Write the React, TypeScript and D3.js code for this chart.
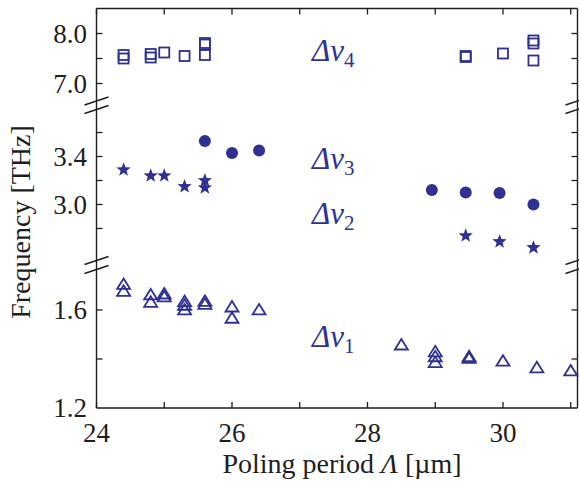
import React from "react";
import * as d3 from "d3";

const W = 579;
const H = 482;

// Δν4 (open squares)
const nu4X = [24.4, 24.4, 24.8, 24.8, 25.0, 25.3, 25.6, 25.6, 25.6, 29.45, 29.45, 30.0, 30.45, 30.45, 30.45];
const nu4Y = [7.57, 7.5, 7.59, 7.52, 7.62, 7.55, 7.81, 7.78, 7.57, 7.55, 7.53, 7.6, 7.86, 7.8, 7.46];

// Δν3 (filled circles)
const nu3X = [25.6, 26.0, 26.4, 28.95, 29.45, 29.95, 30.45];
const nu3Y = [3.53, 3.43, 3.45, 3.12, 3.1, 3.095, 3.0];

// Δν2 (filled stars)
const nu2X = [24.4, 24.8, 25.0, 25.3, 25.6, 25.6, 29.45, 29.95, 30.45];
const nu2Y = [3.29, 3.24, 3.24, 3.15, 3.2, 3.14, 2.74, 2.69, 2.64];

// Δν1 (open triangles)
const nu1X = [24.4, 24.4, 24.8, 24.8, 25.0, 25.0, 25.3, 25.3, 25.3, 25.6, 25.6, 26.0, 26.0, 26.4, 28.5, 29.0, 29.0, 29.0, 29.5, 29.5, 30.0, 30.5, 31.0];
const nu1Y = [1.7, 1.672, 1.657, 1.627, 1.661, 1.649, 1.63, 1.615, 1.596, 1.631, 1.619, 1.608, 1.562, 1.596, 1.453, 1.425, 1.405, 1.381, 1.405, 1.398, 1.387, 1.36, 1.347];

const xMajor = [24, 26, 28, 30];
const xMinor = [25, 27, 29, 31];
const topTicks = [7.0, 7.5, 8.0];
const topLabels = [7.0, 8.0];
const midTicks = [2.8, 3.0, 3.2, 3.4, 3.6];
const midLabels = [3.0, 3.4];
const botTicks = [1.4, 1.6];
const botLabels = [1.2, 1.6];

const BLUE = "#2e3192";
const INK = "#1e1e1e";
const FONT = "'Liberation Serif', 'DejaVu Serif', serif";

function starPath(R: number) {
  const r = R * 0.42;
  const pts: [number, number][] = [];
  for (let i = 0; i < 10; i++) {
    const a = -Math.PI / 2 + (i * Math.PI) / 5;
    const rr = i % 2 === 0 ? R : r;
    pts.push([rr * Math.cos(a), rr * Math.sin(a)]);
  }
  return d3.line()(pts.concat([pts[0]])) + "Z";
}

function triPath(w: number, h: number) {
  return `M0,${(-2 * h) / 3}L${w / 2},${h / 3}L${-w / 2},${h / 3}Z`;
}

export default function App() {
  const left = 96.5;
  const right = 577.5;
  const top = 8.5;
  const bottom = 408;
  const x = d3.scaleLinear().domain([24, 31.1]).range([left, right]);
  const yTop = d3.scaleLinear().domain([6.65, 8.5]).range([101, top]);
  const yMid = d3.scaleLinear().domain([2.533, 3.792]).range([260.5, 109.5]);
  const yBot = d3.scaleLinear().domain([1.2, 1.765]).range([bottom, 269.5]);

  const tick = 6;
  const fmt = d3.format(".1f");
  const star = starPath(7.5);
  const tri = triPath(13, 10.5);

  const breaks = [101, 109.5, 260.5, 269.5];

  const yTickLines: any[] = [];
  const addY = (vals: number[], s: any, key: string) => {
    vals.forEach((v, i) => {
      const yy = s(v);
      yTickLines.push(
        <g key={key + i}>
          <line x1={left} x2={left + tick} y1={yy} y2={yy} stroke={INK} strokeWidth={1.3} />
          <line x1={right} x2={right - tick} y1={yy} y2={yy} stroke={INK} strokeWidth={1.3} />
        </g>
      );
    });
  };
  addY(topTicks, yTop, "t");
  addY(midTicks, yMid, "m");
  addY(botTicks, yBot, "b");

  const yLabelEls = [
    ...topLabels.map((v) => ({ v, y: yTop(v) })),
    ...midLabels.map((v) => ({ v, y: yMid(v) })),
    ...botLabels.map((v) => ({ v, y: yBot(v) })),
  ];

  const txt = { fontFamily: FONT } as React.CSSProperties;

  const label = (sub: string, lx: number, ly: number) => (
    <text x={lx} y={ly} fill={BLUE} style={txt} fontSize={31} fontStyle="italic">
      {"Δν"}
      <tspan fontSize={21} fontStyle="normal" dy={6}>{sub}</tspan>
    </text>
  );

  return (
    <svg width={W} height={H} style={{ position: "absolute", left: 0, top: 0, background: "#fff" }}>
      <rect x={0} y={0} width={W} height={H} fill="#fff" />
      {/* frame */}
      <line x1={left} x2={left} y1={top} y2={bottom} stroke={INK} strokeWidth={1.4} />
      <line x1={right} x2={right} y1={top} y2={bottom} stroke={INK} strokeWidth={1.4} />
      <line x1={left} x2={right} y1={top} y2={top} stroke={INK} strokeWidth={1.4} />
      <line x1={left} x2={right} y1={bottom} y2={bottom} stroke={INK} strokeWidth={1.4} />
      {/* x ticks */}
      {xMajor.concat(xMinor).map((v, i) => (
        <g key={"x" + i}>
          <line x1={x(v)} x2={x(v)} y1={bottom} y2={bottom - tick} stroke={INK} strokeWidth={1.3} />
          <line x1={x(v)} x2={x(v)} y1={top} y2={top + tick} stroke={INK} strokeWidth={1.3} />
        </g>
      ))}
      {yTickLines}
      {/* break marks */}
      {breaks.map((b, i) =>
        [left, right].map((xx, j) => (
          <line key={"br" + i + "_" + j} x1={xx - 12} x2={xx + 12} y1={b + 4} y2={b - 4} stroke={INK} strokeWidth={1.4} />
        ))
      )}
      {/* tick labels */}
      {xMajor.map((v) => (
        <text key={"xl" + v} x={x(v)} y={442} textAnchor="middle" style={txt} fontSize={27} fill={INK}>
          {v}
        </text>
      ))}
      {yLabelEls.map((d, i) => (
        <text key={"yl" + i} x={87} y={d.y} dy="0.34em" textAnchor="end" style={txt} fontSize={27} fill={INK}>
          {fmt(d.v)}
        </text>
      ))}
      {/* axis titles */}
      <text x={342} y={473} textAnchor="middle" style={txt} fontSize={28} fill={INK}>
        Poling period <tspan fontStyle="italic">Λ</tspan> [µm]
      </text>
      <text
        transform="translate(30,222) rotate(-90)"
        textAnchor="middle"
        style={txt}
        fontSize={28}
        fill={INK}
      >
        Frequency [THz]
      </text>
      {/* markers */}
      {nu4X.map((v, i) => (
        <rect key={"s" + i} x={x(v) - 5} y={yTop(nu4Y[i]) - 5} width={10} height={10} fill="none" stroke={BLUE} strokeWidth={1.8} />
      ))}
      {nu3X.map((v, i) => (
        <circle key={"c" + i} cx={x(v)} cy={yMid(nu3Y[i])} r={6} fill={BLUE} />
      ))}
      {nu2X.map((v, i) => (
        <path key={"st" + i} d={star} transform={`translate(${x(v)},${yMid(nu2Y[i])})`} fill={BLUE} />
      ))}
      {nu1X.map((v, i) => (
        <path key={"tr" + i} d={tri} transform={`translate(${x(v)},${yBot(nu1Y[i])})`} fill="none" stroke={BLUE} strokeWidth={1.8} strokeLinejoin="miter" />
      ))}
      {/* series labels */}
      {label("4", 312, 61)}
      {label("3", 312, 169)}
      {label("2", 312, 224)}
      {label("1", 312, 347)}
    </svg>
  );
}
